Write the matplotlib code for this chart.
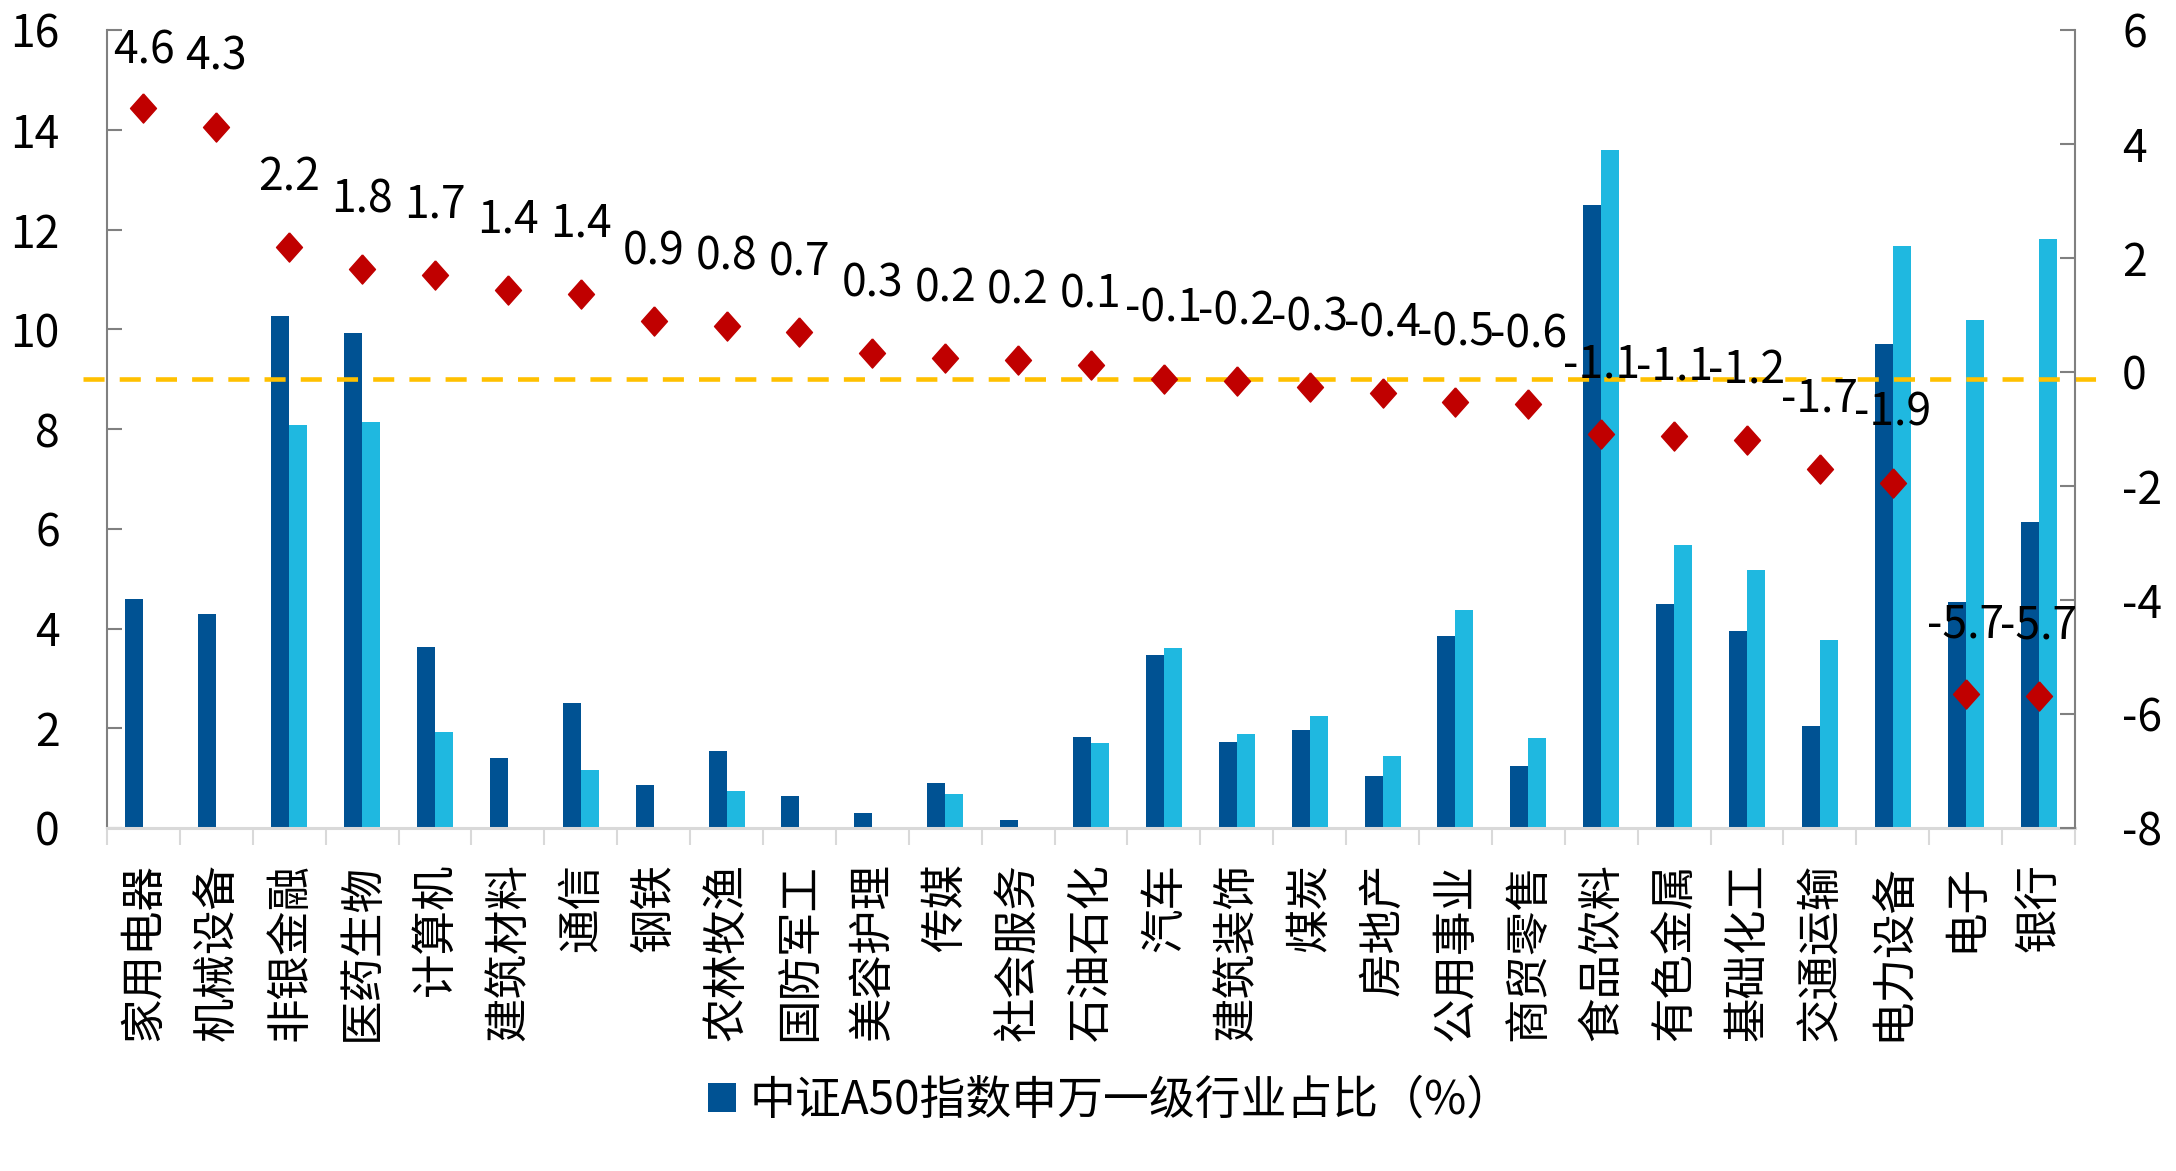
import numpy as np
import matplotlib
matplotlib.use("Agg")
import matplotlib.pyplot as plt
from matplotlib.transforms import blended_transform_factory

plt.rcParams['font.family'] = ['Noto Sans CJK SC', 'DejaVu Sans']
plt.rcParams['axes.unicode_minus'] = False

categories = ["家用电器", "机械设备", "非银金融", "医药生物", "计算机", "建筑材料", "通信", "钢铁",
              "农林牧渔", "国防军工", "美容护理", "传媒", "社会服务", "石油石化", "汽车", "建筑装饰",
              "煤炭", "房地产", "公用事业", "商贸零售", "食品饮料", "有色金属", "基础化工", "交通运输",
              "电力设备", "电子", "银行"]
a50_weight = [4.60, 4.29, 10.26, 9.92, 3.62, 1.40, 2.50, 0.86, 1.54, 0.65, 0.30, 0.90, 0.16, 1.82,
              3.46, 1.72, 1.96, 1.04, 3.85, 1.24, 12.50, 4.50, 3.94, 2.04, 9.71, 4.54, 6.13]
other_weight = [0.0, 0.0, 8.08, 8.14, 1.92, 0.0, 1.16, 0.0, 0.74, 0.0, 0.0, 0.68, 0.0, 1.70,
                3.61, 1.88, 2.24, 1.44, 4.38, 1.80, 13.60, 5.67, 5.17, 3.76, 11.66, 10.18, 11.80]
diff = [4.63, 4.30, 2.19, 1.80, 1.71, 1.44, 1.37, 0.89, 0.80, 0.70, 0.33, 0.24, 0.21, 0.13,
        -0.12, -0.16, -0.27, -0.37, -0.53, -0.57, -1.09, -1.13, -1.20, -1.70, -1.94, -5.65, -5.68]
legend_label = "中证A50指数申万一级行业占比（%）"
left_ticks = [0, 2, 4, 6, 8, 10, 12, 14, 16]
right_ticks = [-8, -6, -4, -2, 0, 2, 4, 6]
ref_line_value = 9

DARK = "#005293"
LIGHT = "#1FB8E0"
RED = "#C00000"
GOLD = "#FFC000"
GRAY = "#808080"
LGRAY = "#D9D9D9"
FS = 32

W, H = 2176, 1171
fig = plt.figure(figsize=(W / 100, H / 100), dpi=100)
ax = fig.add_axes([107 / W, 1 - 828 / H, (2075 - 107) / W, (828 - 30) / H])
ax2 = ax.twinx()

x = np.arange(len(categories))
bw = 0.247
bars = ax.bar(x - bw / 2, a50_weight, width=bw, color=DARK, zorder=2, label=legend_label)
ax.bar(x + bw / 2, other_weight, width=bw, color=LIGHT, zorder=2)

ax.set_xlim(-0.5, len(categories) - 0.5)
ax.set_ylim(0, 16)
ax.set_yticks(left_ticks)
ax2.set_ylim(-8, 6)
ax2.set_yticks(right_ticks)

# reference dashed line
tr = blended_transform_factory(ax.transAxes, ax.transData)
ax.plot([-0.0122, 1.0117], [ref_line_value, ref_line_value], transform=tr, color=GOLD,
        lw=3.3, dashes=(4.6, 3.3), clip_on=False, zorder=5, solid_capstyle='butt',
        dash_capstyle='butt')

# diamonds
diamond = [(0, 1), (0.89, 0), (0, -1), (-0.89, 0), (0, 1)]
ax2.plot(x, diff, linestyle='none', marker=diamond, markersize=21, color=RED, zorder=6)

# spines
for s in ['top']:
    ax.spines[s].set_visible(False)
    ax2.spines[s].set_visible(False)
ax.spines['right'].set_visible(False)
ax2.spines['left'].set_visible(False)
ax2.spines['bottom'].set_visible(False)
ax.spines['left'].set_color(GRAY)
ax.spines['left'].set_linewidth(1.5)
ax2.spines['right'].set_color(GRAY)
ax2.spines['right'].set_linewidth(1.5)
ax.spines['bottom'].set_color(LGRAY)
ax.spines['bottom'].set_linewidth(2.2)

ax.tick_params(axis='y', direction='in', length=11, width=1.5, color=GRAY, pad=34,
               labelsize=FS)
ax2.tick_params(axis='y', direction='in', length=11, width=1.5, color=GRAY, pad=34,
                labelsize=FS)
ax.set_xticks(x)
ax.set_xticklabels(categories, rotation=90, fontsize=FS, va='top', ha='center')
ax.tick_params(axis='x', which='major', length=0, pad=25)
ax.set_xticks(np.arange(-0.5, len(categories), 1), minor=True)
ax.tick_params(axis='x', which='minor', direction='out', length=12, width=1.5, color=LGRAY)

# data labels
fig.canvas.draw()
top_disp = ax2.transAxes.transform((0, 1))[1]
for xi, v in zip(x, diff):
    my = ax2.transData.transform((xi, v))[1]
    off_px = min(70, top_disp - 20 - my)
    ax2.annotate(f"{v:.1f}", xy=(xi, v), xytext=(0, off_px * 72 / 100),
                 textcoords='offset points', ha='center', va='center', fontsize=FS,
                 color='black', zorder=7, annotation_clip=False)

fig.legend(handles=[bars], labels=[legend_label], loc='center left',
           bbox_to_anchor=(708 / W, 1 - 1100 / H), frameon=False, fontsize=33,
           handlelength=0.6, handleheight=0.6, handletextpad=0.3, borderpad=0,
           borderaxespad=0)

fig.savefig("out.png", dpi=100)
